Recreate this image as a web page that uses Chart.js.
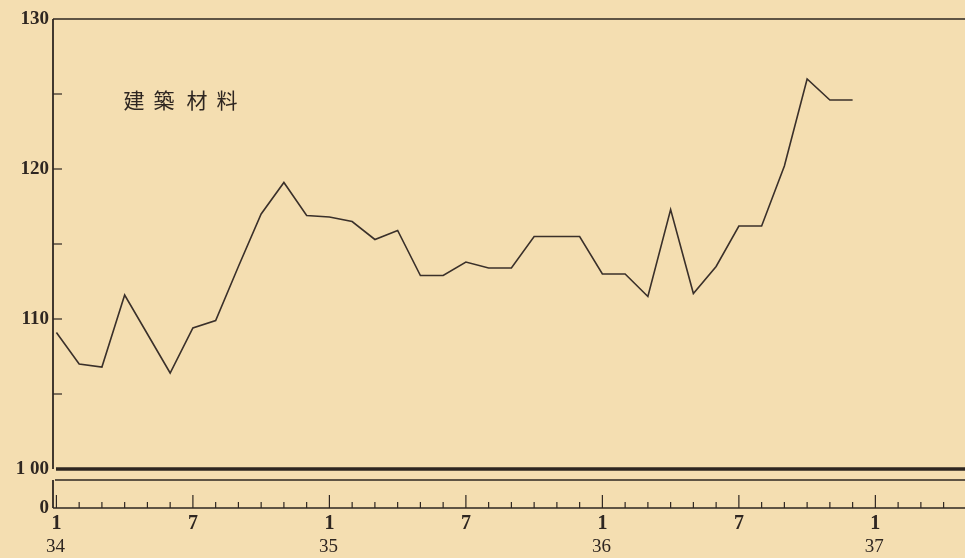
<!DOCTYPE html>
<html>
<head>
<meta charset="utf-8">
<script src="https://cdn.jsdelivr.net/npm/chart.js@4.4.1/dist/chart.umd.min.js"></script>
<style>
html, body { margin: 0; padding: 0; background: #f4deb1; }
#wrap { width: 965px; height: 558px; position: relative; }
</style>
</head>
<body>
<div id="wrap"><canvas id="myChart"></canvas></div>
<script>
// monthly index, Jan 1934 .. Dec 1936
const seriesTitle = ['建', '築', '材', '料'];
const values = [
  109.1, 107.0, 106.8, 111.6, 109.0, 106.4, 109.4, 109.9, 113.5, 117.0, 119.1, 116.9,
  116.8, 116.5, 115.3, 115.9, 112.9, 112.9, 113.8, 113.4, 113.4, 115.5, 115.5, 115.5,
  113.0, 113.0, 111.5, 117.3, 111.7, 113.5, 116.2, 116.2, 120.2, 126.0, 124.6, 124.6
];
const yTickValues = [97.4, 100, 105, 110, 115, 120, 125, 130];
const yTickLabels = ['0', '1 00', '', '110', '', '120', '', '130'];
const monthTicks = [0, 6, 12, 18, 24, 30, 36];
const monthTickLabels = ['1', '7', '1', '7', '1', '7', '1'];
const yearTicks = [0, 12, 24, 36];
const yearLabels = ['34', '35', '36', '37'];

const ink = '#2e2621';

const paperPlugin = {
  id: 'paper',
  afterDraw(chart) {
    const ctx = chart.ctx;
    const xs = chart.scales.x, ys = chart.scales.y;
    const a = chart.chartArea;
    const right = chart.width;
    ctx.save();
    ctx.strokeStyle = ink;
    ctx.fillStyle = ink;
    const line = (x1, y1, x2, y2, w) => {
      ctx.lineWidth = w;
      ctx.beginPath(); ctx.moveTo(x1, y1); ctx.lineTo(x2, y2); ctx.stroke();
    };
    // frame top + broken left axis
    line(a.left, a.top, right, a.top, 1.6);
    line(a.left, a.top, a.left, ys.getPixelForValue(100), 1.8);
    line(a.left, ys.getPixelForValue(99.27), a.left, a.bottom, 1.8);
    // heavy 100 line, break line, zero base
    line(a.left + 3, ys.getPixelForValue(100), right, ys.getPixelForValue(100), 3.5);
    line(a.left + 2, ys.getPixelForValue(99.27), right, ys.getPixelForValue(99.27), 1.5);
    line(a.left, a.bottom, right, a.bottom, 1.3);
    // y ticks pointing inward
    [105, 110, 115, 120, 125].forEach(v => {
      const y = ys.getPixelForValue(v);
      line(a.left, y, a.left + 9, y, 1.2);
    });
    // month ticks pointing up from base
    for (let i = 0; i < 40; i++) {
      const x = xs.getPixelForValue(i);
      const big = i % 6 === 0;
      line(x, a.bottom, x, a.bottom - (big ? 13 : 6), 1.2);
    }
    // year labels under month labels
    ctx.font = '19px "Liberation Serif", serif';
    ctx.textAlign = 'center';
    ctx.textBaseline = 'middle';
    yearTicks.forEach((v, i) => {
      ctx.fillText(yearLabels[i], xs.getPixelForValue(v) - 1, 547);
    });
    // series title
    ctx.font = '21px "Noto Sans CJK JP", sans-serif';
    const offs = [81, 111, 144, 174];
    seriesTitle.forEach((c, i) => ctx.fillText(c, a.left + offs[i], 100));
    ctx.restore();
  }
};

new Chart(document.getElementById('myChart'), {
  type: 'line',
  data: {
    datasets: [{
      data: values.map((v, i) => ({ x: i, y: v })),
      borderColor: '#3a302a',
      borderWidth: 1.6,
      pointRadius: 0,
      tension: 0,
      fill: false
    }]
  },
  options: {
    responsive: true,
    maintainAspectRatio: false,
    animation: false,
    layout: { padding: { top: 19, right: 0, left: 0, bottom: 0 } },
    plugins: { legend: { display: false }, tooltip: { enabled: false } },
    scales: {
      x: {
        type: 'linear',
        min: -0.15,
        max: 39.94,
        grid: { display: false, drawTicks: false },
        border: { display: false },
        afterBuildTicks: s => { s.ticks = Array.from({ length: 40 }, (_, i) => ({ value: i })); },
        afterFit: s => { s.height = 50; },
        ticks: {
          autoSkip: false,
          maxRotation: 0,
          padding: 4,
          color: ink,
          font: { family: '"Liberation Serif", serif', size: 20, weight: 'bold' },
          callback: v => {
            const k = monthTicks.indexOf(v);
            return k >= 0 ? monthTickLabels[k] : '';
          }
        }
      },
      y: {
        min: 97.4,
        max: 130,
        grid: { display: false, drawTicks: false },
        border: { display: false },
        afterBuildTicks: s => { s.ticks = yTickValues.map(v => ({ value: v })); },
        afterFit: s => { s.width = 53; },
        ticks: {
          padding: 4,
          color: ink,
          font: { family: '"Liberation Serif", serif', size: 19, weight: 'bold' },
          callback: v => {
            const k = yTickValues.findIndex(t => Math.abs(t - v) < 0.01);
            return k >= 0 ? yTickLabels[k] : '';
          }
        }
      }
    }
  },
  plugins: [paperPlugin]
});
</script>
</body>
</html>
